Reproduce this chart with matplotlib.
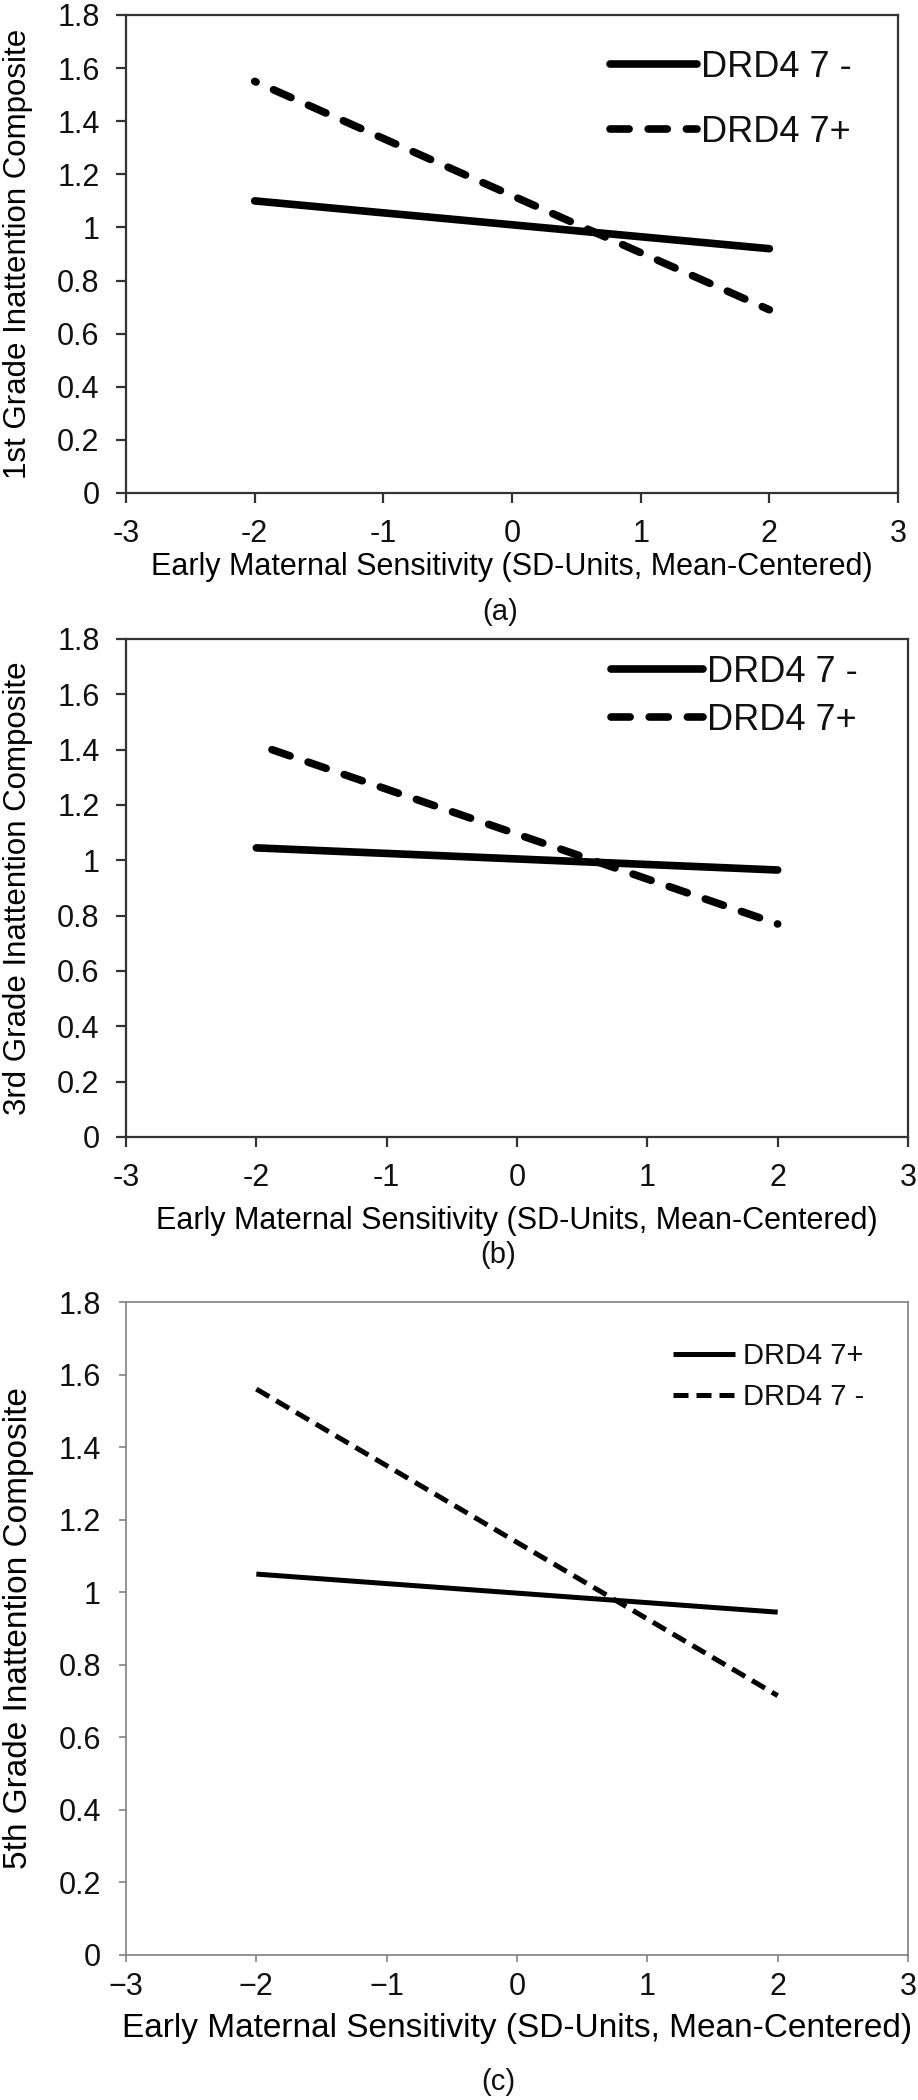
import matplotlib
matplotlib.use("Agg")
import matplotlib.pyplot as plt
from matplotlib.legend_handler import HandlerLine2D
from matplotlib.ticker import FuncFormatter

# ── data ─────────────────────────────────────────────────────────────────
sens_x = [-2, 2]

g1_minus = [1.10, 0.92]
g1_plus = [1.55, 0.69]

g3_minus = [1.045, 0.965]
g3_plus_x = [-1.88, 2.0]
g3_plus = [1.40, 0.77]

g5_plus = [1.05, 0.945]      # solid in panel (c)
g5_minus = [1.56, 0.715]     # dashed in panel (c)

x_ticks = [-3, -2, -1, 0, 1, 2, 3]
y_ticks = [0, 0.2, 0.4, 0.6, 0.8, 1.0, 1.2, 1.4, 1.6, 1.8]

XLABEL = "Early Maternal Sensitivity (SD-Units, Mean-Centered)"

plt.rcParams["font.family"] = ["Liberation Sans", "DejaVu Sans"]
plt.rcParams["text.color"] = "#111111"

W, H = 918, 2100
fig = plt.figure(figsize=(W / 100, H / 100), dpi=100)


def px_axes(left, top, right, bottom):
    return fig.add_axes([left / W, 1 - bottom / H, (right - left) / W, (bottom - top) / H])


def style_axes(ax, spine_col, spine_w, tick_len, xpad, ypad, tick_fs, hyphen):
    ax.set_xlim(-3, 3)
    ax.set_ylim(0, 1.8)
    ax.set_xticks(x_ticks)
    ax.set_yticks(y_ticks)
    if hyphen:
        ax.xaxis.set_major_formatter(FuncFormatter(lambda v, p: f"{v:g}"))
    else:
        ax.xaxis.set_major_formatter(FuncFormatter(lambda v, p: f"{v:g}".replace("-", "\u2212")))
    ax.yaxis.set_major_formatter(FuncFormatter(lambda v, p: f"{v:g}"))
    for s in ax.spines.values():
        s.set_color(spine_col)
        s.set_linewidth(spine_w)
    ax.tick_params(axis="both", direction="out", length=tick_len, width=spine_w,
                   color=spine_col, labelsize=tick_fs, labelcolor="#111111")
    ax.tick_params(axis="x", pad=xpad)
    ax.tick_params(axis="y", pad=ypad)


def plain_dash_handle(handle, orig):
    # legend sample starts on a full dash (data line starts on a dot)
    handle.update_from(orig)
    if orig.get_linestyle() != "-":
        handle.set_linestyle((0, (2.5, 2.5)))


# ── Panel (a) ────────────────────────────────────────────────────────────
ax = px_axes(126, 15, 898, 493)
style_axes(ax, "#333333", 1.6, 7, 12, 12, 22, True)
ax.plot(sens_x, g1_minus, color="black", lw=5.5, solid_capstyle="round", label="DRD4 7 -")
ax.plot(sens_x, g1_plus, color="black", lw=5.5, dash_capstyle="round",
        linestyle=(2.3, (2.5, 2.5)), label="DRD4 7+")
ax.legend(loc="upper left", bbox_to_anchor=(0.627, 0.927), frameon=False, fontsize=26,
          handlelength=2.4, handletextpad=0.12, labelspacing=0.82,
          borderpad=0, borderaxespad=0,
          handler_map={matplotlib.lines.Line2D: HandlerLine2D(update_func=plain_dash_handle)})
ax.set_xlabel(XLABEL, fontsize=22)
ax.xaxis.label.set_va("center")
ax.xaxis.set_label_coords(0.5, -0.155)
ax.set_ylabel("1st Grade Inattention Composite", fontsize=22.5)
ax.yaxis.label.set_va("center")
ax.yaxis.set_label_coords(-0.140, 0.5)
fig.text(500 / W, 1 - 612 / H, "(a)", fontsize=21, ha="center", va="center")

# ── Panel (b) ────────────────────────────────────────────────────────────
ax = px_axes(126, 639, 908, 1137)
style_axes(ax, "#333333", 1.6, 7, 12, 12, 22, True)
ax.plot(sens_x, g3_minus, color="black", lw=5.5, solid_capstyle="round", label="DRD4 7 -")
ax.plot(g3_plus_x, g3_plus, color="black", lw=5.5, dash_capstyle="round",
        linestyle=(0, (2.5, 2.5)), label="DRD4 7+")
ax.legend(loc="upper left", bbox_to_anchor=(0.620, 0.968), frameon=False, fontsize=26,
          handlelength=2.55, handletextpad=0.12, labelspacing=0.35,
          borderpad=0, borderaxespad=0)
ax.set_xlabel(XLABEL, fontsize=22)
ax.xaxis.label.set_va("center")
ax.xaxis.set_label_coords(0.5, -0.169)
ax.set_ylabel("3rd Grade Inattention Composite", fontsize=22.5)
ax.yaxis.label.set_va("center")
ax.yaxis.set_label_coords(-0.138, 0.5)
fig.text(498 / W, 1 - 1255 / H, "(b)", fontsize=21, ha="center", va="center")

# ── Panel (c) ────────────────────────────────────────────────────────────
ax = px_axes(126, 1302, 908, 1955)
style_axes(ax, "#808080", 1.2, 5, 7, 13, 22, False)
ax.plot(sens_x, g5_plus, color="black", lw=3.6, solid_capstyle="butt", label="DRD4 7+")
ax.plot(sens_x, g5_minus, color="black", lw=3.6, dash_capstyle="butt",
        linestyle=(0, (3, 1.6)), label="DRD4 7 -")
ax.legend(loc="upper left", bbox_to_anchor=(0.70, 0.939), frameon=False, fontsize=21,
          handlelength=2.1, handletextpad=0.3, labelspacing=0.45,
          borderpad=0, borderaxespad=0)
ax.set_xlabel(XLABEL, fontsize=24)
ax.xaxis.label.set_va("center")
ax.xaxis.set_label_coords(0.5, -0.113)
ax.set_ylabel("5th Grade Inattention Composite", fontsize=24)
ax.yaxis.label.set_va("center")
ax.yaxis.set_label_coords(-0.138, 0.5)
fig.text(498 / W, 1 - 2082 / H, "(c)", fontsize=21, ha="center", va="center")

fig.savefig("out.png", dpi=100, facecolor="white")
